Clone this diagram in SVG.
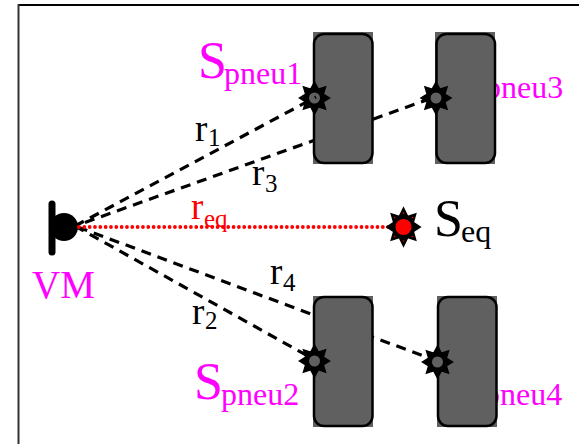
<svg xmlns="http://www.w3.org/2000/svg" width="579" height="444" viewBox="0 0 579 444">
<style>
text{font-family:"Liberation Serif","Times New Roman",serif}
.m{fill:#ff00ff}.k{fill:#000}.r{fill:#ff0000}
.big{font-size:52px}.sub{font-size:32px}.rr{font-size:37px}.s2{font-size:25px}
.dash{fill:none;stroke:#000;stroke-width:3.200;stroke-dasharray:10 7}
.bg{fill:#606060}
.box{fill:#606060;stroke:#000;stroke-width:2.500}
.st{fill:#000;stroke:#000;stroke-width:1.500;stroke-linejoin:miter}
</style>
<defs>
<polygon id="star" points="0,-16 3.800,-8.800 11,-11 8.800,-3.800 15,0 8.800,3.800 11,11 3.800,8.800 0,16 -3.800,8.800 -11,11 -8.800,3.800 -15,0 -8.800,-3.800 -11,-11 -3.800,-8.800"/>
</defs>
<rect width="579" height="444" fill="#fff"/>
<g id="frame">
<line x1="18" y1="5" x2="579" y2="5" stroke="#000" stroke-width="2"/>
<line x1="18.500" y1="4" x2="18.500" y2="444" stroke="#333" stroke-width="2"/>
</g>
<g id="labels-behind">
<text class="m sub" x="485" y="98">pneu3</text>
<text class="m sub" x="484" y="405">pneu4</text>
</g>
<g id="connectors">
<path class="dash" stroke-dashoffset="6.400" d="M75 226L435 97"/>
<path class="dash" stroke-dashoffset="14" d="M75 226L437 361"/>
<path class="dash" d="M75 226L315 360"/>
</g>
<g id="pneu1-tire"><rect class="bg" x="313" y="32" width="60" height="132"/><rect class="box" x="314" y="34" width="58.500" height="129" rx="10"/></g>
<g id="pneu3-tire"><rect class="bg" x="435" y="32" width="60" height="132"/><rect class="box" x="436.500" y="34" width="58.500" height="129" rx="10"/></g>
<g id="pneu2-tire"><rect class="bg" x="313" y="296" width="60" height="131"/><rect class="box" x="314" y="297" width="58.500" height="129" rx="10"/></g>
<g id="pneu4-tire"><rect class="bg" x="437" y="296" width="60" height="131"/><rect class="box" x="438" y="297" width="58.500" height="129" rx="10"/></g>
<g id="Spneu1"><use href="#star" class="st" transform="translate(314.500,98)"/><circle cx="314.500" cy="98" r="5.500" fill="#606060"/><text class="m big" x="198" y="78">S</text><text class="m sub" x="224" y="84">pneu1</text></g>
<g id="Spneu3"><use href="#star" class="st" transform="translate(436,98)"/><circle cx="436" cy="98" r="5.500" fill="#606060"/></g>
<g id="Spneu2"><use href="#star" class="st" transform="translate(314.500,361)"/><circle cx="314.500" cy="361" r="5.500" fill="#606060"/><text class="m big" x="194" y="399">S</text><text class="m sub" x="221" y="405">pneu2</text></g>
<g id="Spneu4"><use href="#star" class="st" transform="translate(437.500,362)"/><circle cx="437.500" cy="362" r="5.500" fill="#606060"/></g>
<g id="connector-r1"><path class="dash" d="M75 226L316 97"/></g>
<g id="VM">
<line x1="52" y1="204" x2="52" y2="252" stroke="#000" stroke-width="7" stroke-linecap="round"/>
<circle cx="64" cy="227" r="14" fill="#000"/>
<text class="m" x="32" y="298" font-size="39">VM</text>
</g>
<g id="req-line"><line x1="79" y1="227" x2="392" y2="227" stroke="#ff0000" stroke-width="3.800" stroke-linecap="round" stroke-dasharray="0 5.330"/></g>
<g id="Seq">
<use href="#star" class="st" transform="translate(403.500,227) scale(1.100,1.180)"/>
<circle cx="403.500" cy="227" r="8" fill="#ff0000"/>
<g fill="#ff0000"><circle cx="394.500" cy="217.500" r="0.800"/><circle cx="412.500" cy="217.500" r="0.800"/><circle cx="394.500" cy="236.500" r="0.800"/><circle cx="412.500" cy="236.500" r="0.800"/><circle cx="403.500" cy="241" r="0.800"/><circle cx="403.500" cy="213" r="0.800"/></g>
<text class="k big" x="434" y="236">S</text><text class="k sub" x="461" y="242">eq</text>
</g>
<g id="r-labels">
<text class="k rr" x="195" y="141">r</text><text class="k s2" x="208" y="146">1</text>
<text class="k rr" x="252" y="185">r</text><text class="k s2" x="265" y="192">3</text>
<text class="r rr" x="191" y="219">r</text><text class="r s2" x="204" y="227">eq</text>
<text class="k rr" x="270" y="284">r</text><text class="k s2" x="283" y="291">4</text>
<text class="k rr" x="192" y="324">r</text><text class="k s2" x="205" y="329">2</text>
</g>
</svg>
